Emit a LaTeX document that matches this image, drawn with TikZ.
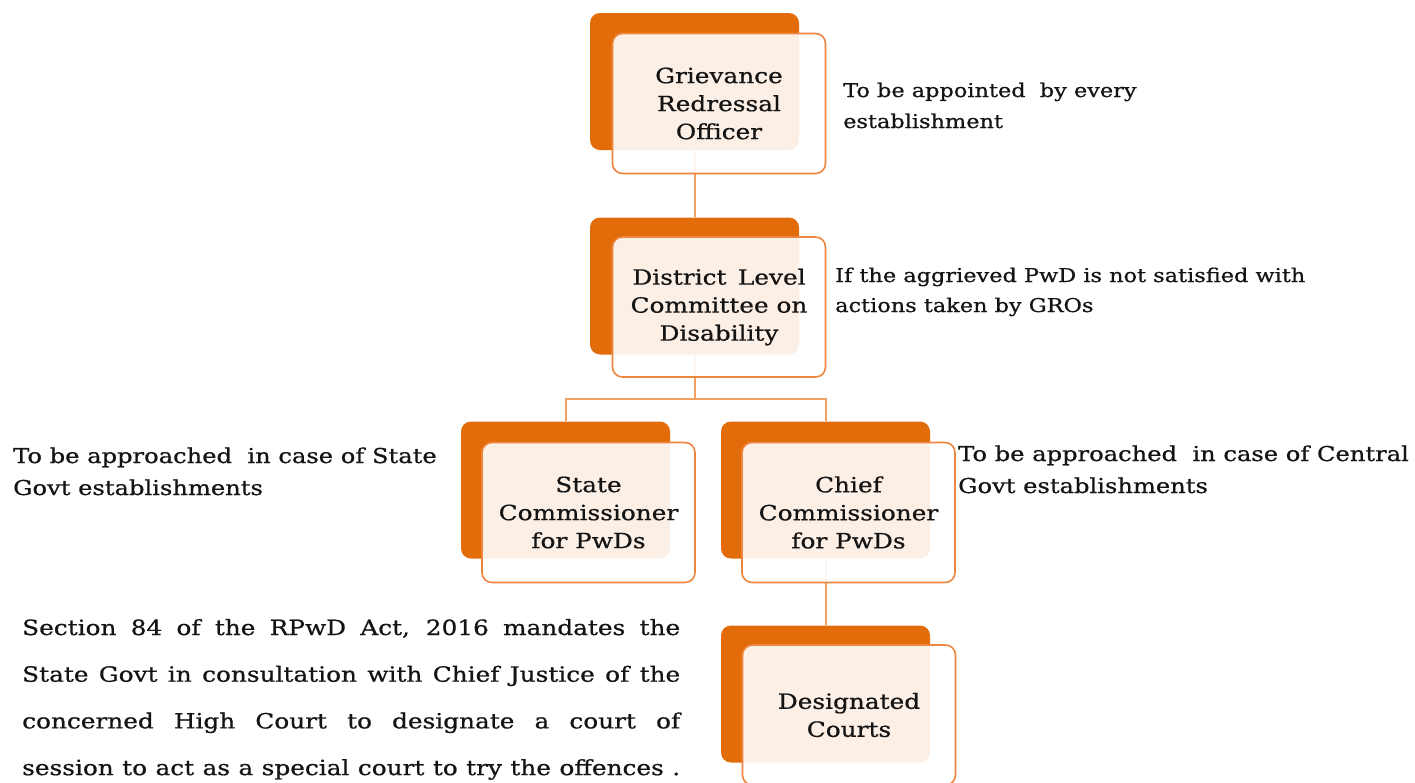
\documentclass[tikz,border=0pt]{standalone}
\usepackage{fontspec}
\setmainfont[FakeStretch=1.18,FakeBold=0.7]{DejaVu Serif}
\definecolor{backor}{HTML}{E36C0A}
\definecolor{lineor}{HTML}{EE8640}
\definecolor{connor}{HTML}{F0A060}
\definecolor{txt}{HTML}{141414}
\tikzset{
  backbox/.style={fill=backor, rounded corners=10pt, inner sep=0pt, minimum width=209pt, minimum height=137pt},
  frontbox/.style={draw=lineor, line width=1.6pt, fill=white, fill opacity=0.9, text opacity=1, rounded corners=10pt, inner sep=0pt, minimum width=213pt, minimum height=140pt, align=center, text=txt, font=\fontsize{21}{28}\selectfont},
  conn/.style={draw=connor, line width=2pt},
  sidetext/.style={anchor=base west, inner sep=0pt, text=txt}
}
\begin{document}
\begin{tikzpicture}[x=1pt,y=-1pt]
\useasboundingbox (0,0) rectangle (1415,782);
\clip (0,0) rectangle (1415,782);
\fill[white] (0,0) rectangle (1415,782);
% back boxes
\node[backbox] (b1) at (694.5,81.5) {};
\node[backbox] (b2) at (694.5,286) {};
\node[backbox] (b3) at (565.5,490) {};
\node[backbox] (b4) at (825.5,490) {};
\node[backbox] (b5) at (825.5,694) {};
% connectors
\draw[conn] (b1.south) -- (b2.north);
\draw[conn] (b2.south) -- ++(0,44) coordinate (j) -| (b3.north);
\draw[conn] (j) -| (b4.north);
\draw[conn] (b4.south) -- (b5.north);
% front boxes
\node[frontbox] (f1) at (719,103.5) {Grievance\\Redressal\\Officer};
\node[frontbox] (f2) at (719,307) {District\ \,Level\\Committee on\\Disability};
\node[frontbox] (f3) at (588.5,512.5) {State\\Commissioner\\for PwDs};
\node[frontbox] (f4) at (848.5,512.5) {Chief\\Commissioner\\for PwDs};
\node[frontbox] (f5) at (849,715) {Designated\\Courts};
% side texts
\node[sidetext] (t1) at (843,97) {\parbox[t]{400pt}{\fontsize{19}{31}\selectfont To be appointed\ \ by every\\establishment}};
\node[sidetext] (t2) at (835,282) {\parbox[t]{570pt}{\fontsize{19}{30}\selectfont If the aggrieved PwD is not satisfied with\\actions taken by GROs}};
\node[sidetext] (t3) at (13,463) {\parbox[t]{440pt}{\fontsize{20.5}{32}\selectfont To be approached\ \ in case of State\\Govt establishments}};
\node[sidetext] (t4) at (958,461) {\parbox[t]{455pt}{\fontsize{20.5}{32}\selectfont To be approached\ \ in case of Central\\Govt establishments}};
\node[sidetext] (t5) at (22,635) {\parbox[t]{658pt}{\fontsize{21}{46.7}\selectfont\parfillskip=0pt\parindent=0pt
Section 84 of the RPwD Act, 2016 mandates the\linebreak State Govt in consultation with Chief Justice of the\linebreak concerned High Court to designate a court of\linebreak session to act as a special court to try the offences .}};
\end{tikzpicture}
\end{document}
